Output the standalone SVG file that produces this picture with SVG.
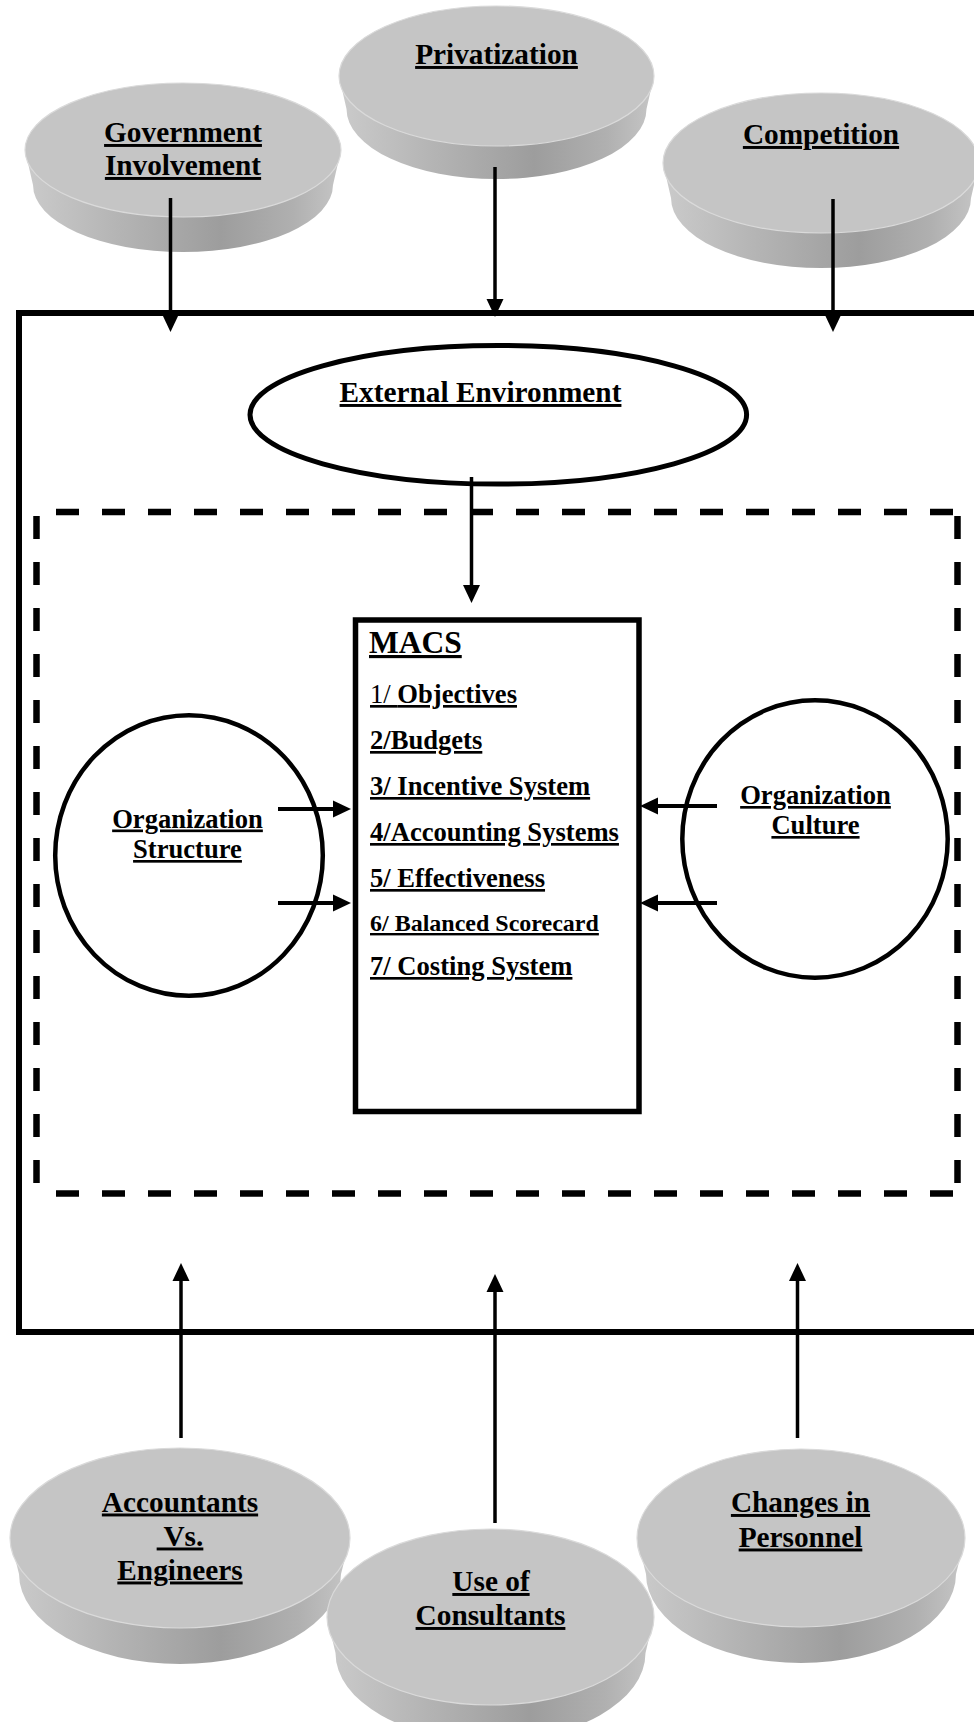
<svg xmlns="http://www.w3.org/2000/svg" width="974" height="1722" viewBox="0 0 974 1722">
  <defs>
    <style>
      .lbl{font-family:"Liberation Serif","Times New Roman",serif;font-weight:bold;fill:#000;text-decoration:underline;text-decoration-thickness:2.4px}
      .f29{font-size:29.3px}
      .f26{font-size:26.6px}
      .f24{font-size:24px}
      .f31{font-size:31.5px}
      .reg{font-weight:normal}
      .face{fill:#c5c5c5;stroke:#dadada;stroke-width:1.2}
      .side{fill:url(#sideGrad)}
      .frame{fill:none;stroke:#000;stroke-width:6}
      .dash{fill:none;stroke:#000;stroke-width:6.5;stroke-dasharray:23 23}
      .ring{fill:none;stroke:#000;stroke-width:4.5}
      .conn{fill:none;stroke:#000;stroke-width:3.5;marker-end:url(#arrow)}
      .conn-h{fill:none;stroke:#000;stroke-width:4;marker-end:url(#arrow)}
    </style>
    <linearGradient id="sideGrad" x1="0" y1="0" x2="1" y2="0">
      <stop offset="0" stop-color="#cbcbcb"/>
      <stop offset="0.3" stop-color="#b4b4b4"/>
      <stop offset="0.62" stop-color="#9d9d9d"/>
      <stop offset="0.85" stop-color="#b0b0b0"/>
      <stop offset="1" stop-color="#c6c6c6"/>
    </linearGradient>
    <marker id="arrow" markerUnits="userSpaceOnUse" viewBox="0 0 18 18" markerWidth="18" markerHeight="18" refX="6" refY="9" orient="auto">
      <path d="M0,0.5 L18,9 L0,17.5 Z" fill="#000"/>
    </marker>
  </defs>

  <!-- outer boundary (open on the right) -->
  <g id="outer-frame">
    <path class="frame" d="M974,313 H19 V1332 H974"/>
  </g>

  <!-- dashed organisation boundary -->
  <g id="org-boundary">
    <line class="dash" x1="56" y1="512" x2="953" y2="512"/>
    <line class="dash" x1="56" y1="1193.5" x2="953" y2="1193.5"/>
    <line class="dash" x1="36.5" y1="516" x2="36.5" y2="1183"/>
    <line class="dash" x1="957.5" y1="516" x2="957.5" y2="1183"/>
  </g>

  <!-- top drivers -->
  <g id="government">
    <path class="side" d="M25,150 L33,185 A150,67 0 0 0 333,185 L341,150 Z"/>
    <ellipse class="face" cx="183" cy="150" rx="158" ry="67"/>
    <text class="lbl f29" x="183" y="142" text-anchor="middle">Government</text>
    <text class="lbl f29" x="183" y="175" text-anchor="middle">Involvement</text>
  </g>
  <g id="privatization">
    <path class="side" d="M339,76 L346.5,109 A150,70 0 0 0 646.5,109 L654,76 Z"/>
    <ellipse class="face" cx="496.5" cy="76" rx="157.5" ry="70"/>
    <text class="lbl f29" x="496.5" y="64" text-anchor="middle">Privatization</text>
  </g>
  <g id="competition">
    <path class="side" d="M663,163 L671,198 A150,70 0 0 0 971,198 L979,163 Z"/>
    <ellipse class="face" cx="821" cy="163" rx="158" ry="70"/>
    <text class="lbl f29" x="821" y="144" text-anchor="middle">Competition</text>
  </g>

  <!-- external environment -->
  <g id="external-environment">
    <ellipse fill="#fff" stroke="#000" stroke-width="5" cx="498.3" cy="414.8" rx="248.3" ry="69.3"/>
    <text class="lbl f29" x="480.5" y="402" text-anchor="middle">External Environment</text>
  </g>

  <!-- MACS -->
  <g id="macs">
    <rect x="355.5" y="620" width="283.5" height="491.5" fill="#fff" stroke="#000" stroke-width="5.5"/>
    <text class="lbl f31" x="369" y="653">MACS</text>
    <text class="lbl f26" x="370" y="703"><tspan class="reg">1/ </tspan>Objectives</text>
    <text class="lbl f26" x="370" y="749">2/Budgets</text>
    <text class="lbl f26" x="370" y="795">3/ Incentive System</text>
    <text class="lbl f26" x="370" y="841">4/Accounting Systems</text>
    <text class="lbl f26" x="370" y="887">5/ Effectiveness</text>
    <text class="lbl f24" x="370" y="931">6/ Balanced Scorecard</text>
    <text class="lbl f26" x="370" y="975">7/ Costing System</text>
  </g>

  <!-- internal factors -->
  <g id="org-structure">
    <ellipse class="ring" cx="189" cy="855.5" rx="133.8" ry="140.3"/>
    <text class="lbl f26" x="187.5" y="827.5" text-anchor="middle">Organization</text>
    <text class="lbl f26" x="187.5" y="858" text-anchor="middle">Structure</text>
  </g>
  <g id="org-culture">
    <ellipse class="ring" cx="815" cy="839" rx="132.7" ry="138.7"/>
    <text class="lbl f26" x="815.5" y="804" text-anchor="middle">Organization</text>
    <text class="lbl f26" x="815.5" y="834" text-anchor="middle">Culture</text>
  </g>

  <!-- bottom drivers -->
  <g id="accountants-engineers">
    <path class="side" d="M10,1538 L19,1574 A161,90 0 0 0 341,1574 L350,1538 Z"/>
    <ellipse class="face" cx="180" cy="1538" rx="170" ry="90"/>
    <text class="lbl f29" x="180" y="1511.5" text-anchor="middle">Accountants</text>
    <text class="lbl f29" x="180" y="1545.5" text-anchor="middle" xml:space="preserve"> Vs.</text>
    <text class="lbl f29" x="180" y="1579.5" text-anchor="middle">Engineers</text>
  </g>
  <g id="changes-personnel">
    <path class="side" d="M637,1538 L646,1574 A155,89 0 0 0 956,1574 L965,1538 Z"/>
    <ellipse class="face" cx="801" cy="1538" rx="164" ry="89"/>
    <text class="lbl f29" x="800.5" y="1512" text-anchor="middle">Changes in</text>
    <text class="lbl f29" x="800.5" y="1546.5" text-anchor="middle">Personnel</text>
  </g>
  <g id="use-of-consultants">
    <path class="side" d="M327,1617 L335.5,1653 A155,88 0 0 0 645.5,1653 L654,1617 Z"/>
    <ellipse class="face" cx="490.5" cy="1617" rx="163.5" ry="88"/>
    <text class="lbl f29" x="491" y="1591" text-anchor="middle">Use of</text>
    <text class="lbl f29" x="490.5" y="1625" text-anchor="middle">Consultants</text>
  </g>

  <!-- connectors -->
  <g id="connectors">
    <path class="conn" d="M170.5,198 V320"/>
    <path class="conn" d="M495,167 V305"/>
    <path class="conn" d="M833,199 V320"/>
    <path class="conn" d="M471.5,477 V591"/>
    <path class="conn-h" d="M278,809 H339"/>
    <path class="conn-h" d="M278,903 H339"/>
    <path class="conn-h" d="M717,806 H652"/>
    <path class="conn-h" d="M717,903 H652"/>
    <path class="conn" d="M181,1438 V1275"/>
    <path class="conn" d="M495,1523 V1286"/>
    <path class="conn" d="M797.5,1438 V1275"/>
  </g>
</svg>
